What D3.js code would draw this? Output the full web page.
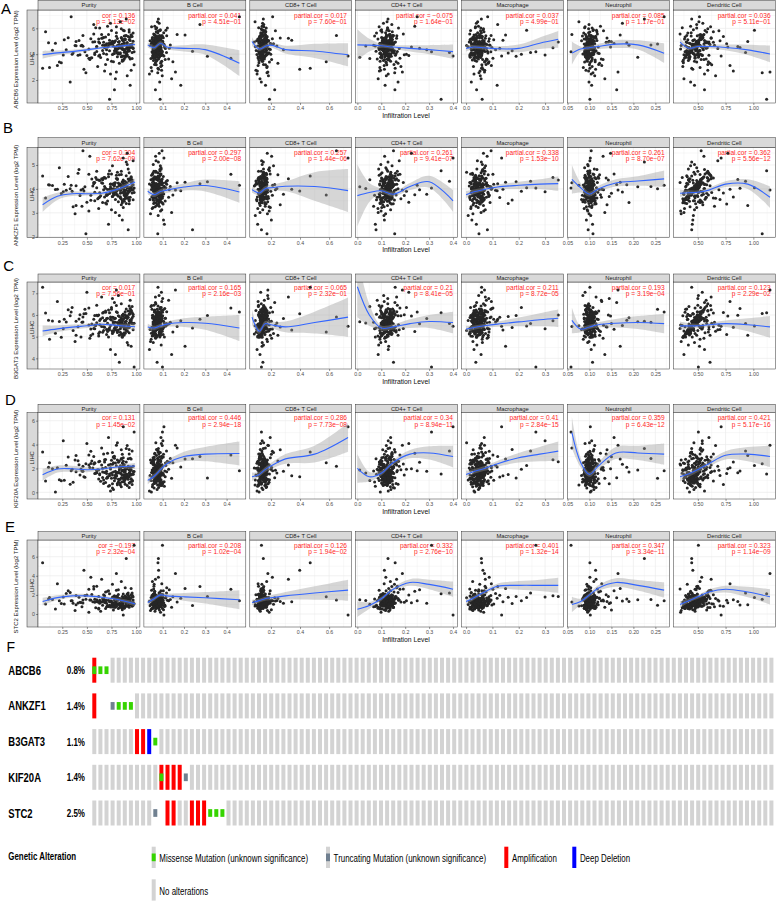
<!DOCTYPE html>
<html><head><meta charset="utf-8">
<script src="https://cdn.jsdelivr.net/npm/d3@7"></script>
<style>
body{margin:0;background:#fff}
svg{display:block}
text{font-family:"Liberation Sans",Arial,Helvetica,sans-serif}
</style>
</head><body>
<svg id="c" width="777" height="902"></svg>
<script>
// ---------------- DATA ----------------
const cellTypes = ["Purity","B Cell","CD8+ T Cell","CD4+ T Cell","Macrophage","Neutrophil","Dendritic Cell"];
const genes = ["ABCB6","ANKZF1","B3GAT3","KIF20A","STC2"];
const rowLetters = ["A","B","C","D","E"];

// infiltration levels per sample (purity in %, others x1000)
const purityPct = [84,91,62,77,95,38,88,71,56,93,80,24,86,67,97,74,52,89,81,45,
90,69,12,83,76,94,59,87,33,79,92,64,85,48,72,98,57,82,18,75,
88,66,93,41,79,86,54,96,70,29,84,61,91,77,36,89,68,95,50,73,
81,8,87,63,92,78,44,85,58,94,71,22,83,90,65,47,97,76,55,88,
15,80,69,93,39,86,74,60,91,27,82,53,96,78,66,5,87,43,72,94,
84,58,31,89,76,92,63,20,81,70,95,49,86,67,35,90,77,60,98,42,
79,88,52,11,93,73,85,65,26,91,57,83,75,96,46,80,68,34,87,62,
86,78,93,71,89,82,95,67,91,84,76,88,97,73,85,90,62,87,80,94,
83,70,92,79,96,86,58,89,77,93,81,74,90,85,66,95,88,72,84,91,
79,87,54,94,82,89,75,92,86,63,96,80,88,77,93,69,85,90,83,97,
74,89,81,46,92,87,78,95,84,68,91,86,60,93,80,88,76,94,85,39];
const bCellK = [62,88,51,74,95,43,69,112,57,81,48,66,104,59,77,38,90,71,53,84,
67,99,46,79,60,128,72,55,86,41,93,64,75,50,108,70,58,83,47,96,
73,61,89,54,142,68,80,45,102,63,76,91,56,85,65,119,49,78,94,60,
82,70,57,97,240,66,87,52,79,110,63,92,74,58,168,81,69,100,55,88,
76,105,62,90,71,310,84,59,98,73,131,67,86,95,61,78,115,70,92,185,
81,64,103,75,89,56,122,96,68,85,205,77,107,63,93,80,148,72,99,87,
113,79,420,95,71,88,136,66,101,84,275,91,74,118,97,160,83,460,106,90,
71,58,84,66,92,53,77,62,88,69,55,81,73,96,60,86,67,79,57,90,
64,75,98,59,83,70,52,87,68,78,61,94,72,56,85,65,80,63,91,74,
69,82,57,76,100,62,88,71,54,84,66,79,93,60,75,86,68,58,81,73,
64,89,77,55,83,70,95,61,78,67,87,74,59,82,69,97,63,76,85,72];
const cd8K = [132,158,110,145,97,176,124,139,86,167,151,118,203,129,142,105,188,136,113,161,
147,121,172,93,138,155,116,196,134,102,149,127,264,141,109,163,131,178,119,144,
153,99,137,168,125,146,210,114,159,133,91,174,140,122,187,148,107,156,130,343,
142,165,118,150,135,226,128,171,104,157,139,190,145,123,162,398,136,181,112,154,
170,131,149,241,126,160,143,115,183,152,137,205,166,120,158,470,147,134,195,163,
141,176,129,155,218,145,168,112,150,286,139,173,157,124,199,148,580,162,135,184,
153,231,144,169,127,190,158,320,140,175,151,248,166,138,650,179,146,212,730,160,
138,152,127,164,119,146,133,171,141,125,158,136,149,115,167,143,130,155,122,161,
147,134,174,128,153,140,117,162,137,150,124,145,168,131,156,142,121,159,135,148,
129,165,139,152,118,144,160,132,175,126,151,137,163,123,146,157,134,140,170,128,
154,143,120,166,138,149,131,158,145,127,162,136,153,116,148,139,169,133,157,142];
const cd4K = [108,125,86,140,97,118,72,133,104,150,91,121,113,162,80,129,99,144,115,68,
120,137,94,111,155,83,126,102,170,117,89,131,106,148,75,123,192,110,96,139,
114,128,101,159,87,134,119,52,143,107,124,182,98,136,112,165,92,130,215,105,
122,146,109,132,78,157,116,138,100,128,240,119,151,95,135,113,175,127,103,141,
130,118,153,35,126,142,109,167,121,137,260,114,148,132,101,158,124,196,139,116,
134,152,120,10,145,127,172,112,140,290,131,156,118,143,205,128,162,136,310,123,
147,133,178,125,155,350,138,164,129,226,144,170,136,385,151,188,141,250,400,159,
112,128,97,135,106,121,143,101,117,130,93,125,139,108,119,147,104,126,114,132,
99,123,138,110,127,95,141,116,129,103,122,150,107,134,118,124,91,137,113,128,
120,145,102,131,111,126,98,140,115,133,105,124,148,109,136,117,127,94,142,119,
125,100,139,113,130,108,144,121,96,134,116,128,103,146,122,111,137,118,131,106];
const macK = [32,55,18,47,71,26,40,63,12,51,36,84,22,45,58,30,67,15,49,38,
43,29,61,8,52,77,35,46,20,69,41,56,27,94,39,60,14,48,33,73,
50,37,65,24,57,42,88,31,54,112,44,28,62,48,19,75,53,36,59,140,
46,68,34,55,81,40,63,25,58,98,47,70,37,160,52,64,43,86,30,61,
57,44,76,50,66,190,39,72,54,105,48,80,62,35,91,59,230,45,69,118,
53,83,60,41,74,128,56,96,2,67,150,49,79,64,210,58,87,71,265,63,
78,55,102,68,175,61,89,73,300,66,120,84,57,245,95,70,330,82,135,350,
28,45,16,52,37,61,24,43,33,56,20,47,39,65,29,50,14,42,58,35,
46,23,54,31,62,40,18,49,36,57,27,44,69,34,51,21,47,38,60,30,
53,25,41,64,33,48,17,55,39,45,28,59,36,50,22,43,66,31,52,40,
26,57,35,46,19,63,42,30,54,37,48,24,60,32,44,51,15,41,56,34];
const neuK = [95,102,88,110,92,99,84,106,97,115,90,101,93,122,87,104,96,108,91,100,
98,113,86,103,94,127,89,105,99,82,111,96,140,92,107,100,118,85,102,95,
104,91,109,97,135,88,101,94,112,99,76,106,96,150,93,103,98,120,90,108,
100,117,94,105,97,162,91,110,102,96,125,89,107,99,60,114,101,145,95,104,
109,98,121,93,106,100,175,96,112,103,92,131,108,97,190,101,116,94,156,105,
99,119,103,210,97,111,106,128,100,93,170,108,102,138,96,225,113,104,58,117,
107,132,98,185,110,101,240,115,105,148,99,123,255,109,104,165,112,270,102,143,
96,101,92,105,98,89,103,95,108,93,100,97,111,91,104,99,94,106,90,102,
97,109,93,100,88,104,96,112,95,101,92,107,98,103,94,99,110,91,105,97,
100,93,106,96,102,89,108,95,99,104,92,114,97,101,94,105,98,90,103,96,
107,99,93,102,96,109,91,100,105,95,98,113,94,103,97,101,92,106,99,95];
const dcK = [420,510,380,465,590,350,440,530,395,480,615,370,455,500,410,560,345,470,430,650,
445,385,520,460,405,575,360,490,435,700,415,475,545,390,450,625,340,505,425,470,
495,400,460,600,375,485,535,420,760,450,510,365,470,580,430,495,820,405,540,460,
480,640,415,505,445,560,390,520,470,880,435,490,610,400,525,455,680,500,420,565,
515,440,590,475,950,425,545,500,660,410,485,555,730,460,520,445,1010,495,600,470,
530,455,620,505,435,575,490,790,465,550,515,1080,480,640,525,445,595,860,505,560,
545,690,475,580,520,1120,500,620,540,770,490,610,555,930,530,1150,585,515,710,600,
430,485,395,460,520,410,450,545,375,470,505,425,490,440,560,400,475,515,385,455,
495,420,535,445,480,365,510,435,465,580,415,500,450,390,525,470,440,555,405,485,
460,530,380,475,495,425,565,445,510,400,455,540,420,490,435,470,590,410,500,450,
480,390,525,465,445,505,430,550,415,475,495,370,460,520,440,485,405,535,455,470];

// expression (log2 TPM x100) per sample
const exprABCB6 = [452,388,517,403,276,468,541,359,495,426,612,334,478,405,563,247,441,512,380,469,
415,533,297,458,491,362,604,437,184,504,449,375,526,418,463,318,557,402,485,346,
472,428,589,391,209,447,519,366,480,434,651,305,461,497,412,543,269,455,389,508,
439,574,351,486,422,125,466,530,398,451,617,340,475,409,552,283,444,501,372,489,
431,566,321,463,498,384,639,420,233,511,446,358,537,405,470,292,585,395,482,160,
457,410,528,377,481,445,602,313,467,435,548,256,474,493,399,673,342,459,418,506,
443,581,368,488,426,52,471,524,393,455,630,329,479,413,545,262,449,690,385,495,
438,492,376,455,517,411,468,529,395,447,483,362,501,427,459,544,386,472,418,506,
451,399,536,433,478,345,497,421,462,571,408,489,444,381,525,466,437,552,402,481,
456,513,371,474,494,425,583,442,509,393,453,539,415,487,431,469,596,406,498,448,
476,388,521,461,440,503,426,548,412,470,491,354,458,514,436,480,398,532,452,465];
const exprANKZF1 = [362,405,318,387,433,296,374,349,412,338,457,381,270,396,355,421,308,369,442,327,
378,341,416,289,393,365,448,322,401,356,483,371,334,409,252,385,427,346,398,313,
389,424,351,466,301,407,373,438,337,394,415,359,502,382,325,419,366,451,344,399,
408,362,437,384,229,418,395,460,350,403,376,489,413,339,426,391,518,368,441,357,
414,379,445,402,331,430,387,474,361,419,396,537,383,425,343,454,405,372,462,392,
420,386,452,409,497,364,435,399,470,378,428,212,411,446,390,513,375,439,404,481,
426,397,461,417,354,476,410,443,388,549,422,459,401,432,560,395,448,415,529,437,
385,412,356,398,431,369,404,446,377,393,421,348,417,381,402,455,363,409,390,436,
396,372,441,388,414,342,427,383,401,468,375,419,394,359,438,406,379,451,367,411,
399,433,353,407,425,386,462,392,428,366,397,444,378,416,389,403,474,371,420,395,
408,361,439,400,384,423,376,448,382,410,426,351,405,434,391,418,368,443,397,413];
const exprB3GAT3 = [548,592,503,567,621,478,536,585,512,559,644,497,571,529,603,441,554,588,519,566,
541,613,488,575,527,668,552,506,597,533,462,581,545,626,498,562,538,690,516,577,
557,520,604,546,418,583,535,639,510,568,550,596,473,561,528,615,543,579,705,531,
565,609,514,574,540,657,499,586,553,630,524,570,382,593,547,606,532,676,558,518,
572,544,618,563,507,598,551,645,525,580,560,493,611,539,587,728,549,601,534,573,
578,537,624,569,515,590,555,662,529,584,456,607,564,546,635,571,521,599,360,582,
585,553,632,576,542,610,567,683,536,595,580,506,626,561,591,715,573,614,548,600,
551,583,518,562,601,531,567,612,526,556,589,508,594,541,572,627,515,579,546,606,
563,533,618,549,586,497,598,539,569,641,524,591,557,512,609,573,543,623,520,584,
566,604,505,577,596,538,634,553,599,521,561,615,535,588,547,575,652,528,593,559,
580,516,611,568,544,597,530,621,537,574,590,502,564,603,548,585,523,616,558,571];
const exprKIF20A = [112,58,186,23,145,271,87,130,204,41,166,96,318,74,152,11,229,120,63,179,
135,82,247,104,37,193,159,289,68,141,214,92,356,127,51,175,238,109,3,162,
148,201,77,264,118,183,345,99,157,226,61,190,132,298,85,172,255,114,410,139,
167,94,233,155,281,122,196,46,243,178,327,106,208,150,372,131,219,72,262,187,
198,143,274,161,309,119,235,182,392,101,251,207,66,286,170,338,224,145,460,212,
223,158,295,187,333,128,260,205,415,176,279,240,89,321,194,367,248,163,505,230,
246,184,312,209,358,153,283,229,432,197,301,263,117,347,218,395,272,180,550,257,
142,96,188,121,67,165,210,103,149,79,236,128,174,58,155,197,112,260,135,84,
161,118,219,144,92,183,247,107,170,131,73,205,152,276,125,190,99,228,163,139,
177,115,241,158,86,199,268,133,181,147,101,222,168,294,140,207,123,253,186,154,
195,137,271,176,109,214,302,150,202,166,119,245,185,321,157,231,146,285,212,173];
const exprSTC2 = [95,142,61,118,203,37,156,84,128,72,249,109,45,167,91,134,18,188,103,76,
121,58,172,99,312,140,66,115,225,87,152,29,131,194,79,108,262,146,53,124,
137,92,181,116,70,158,386,101,143,215,83,127,164,42,112,276,150,97,198,129,
145,105,210,133,88,169,120,341,154,94,238,139,67,176,125,459,148,111,205,160,
153,117,230,141,96,184,136,292,162,106,254,147,80,191,130,536,173,122,244,166,
161,126,243,150,102,197,144,318,170,113,267,155,86,203,138,580,182,132,720,175,
168,135,258,157,110,212,151,365,178,119,287,163,93,221,146,425,190,140,-10,183,
104,72,131,88,156,59,117,143,81,98,176,65,122,93,149,110,52,137,86,165,
114,77,140,101,190,69,127,152,90,106,183,74,133,97,160,119,61,145,92,171,
125,83,148,108,205,76,136,162,95,113,196,80,141,102,172,128,68,155,99,182,
134,89,159,115,220,82,146,168,100,121,210,87,150,107,185,138,73,163,105,195];

// loess fit knots (infiltration level) per cell type
const knotPurity = [0.05,0.2,0.35,0.5,0.65,0.8,0.99];
const knotBCell = [0.03,0.06,0.09,0.12,0.2,0.3,0.46];
const knotCD8 = [0.07,0.12,0.16,0.2,0.3,0.5,0.73];
const knotCD4 = [0.0,0.05,0.1,0.15,0.22,0.3,0.4];
const knotMac = [0.0,0.03,0.07,0.12,0.2,0.28,0.35];
const knotNeu = [0.06,0.08,0.1,0.12,0.16,0.21,0.27];
const knotDC = [0.34,0.42,0.5,0.6,0.75,0.95,1.15];

// fitted values and CI half widths, per gene, per cell type
const fitABCB6 = [[3.95,4.10,4.20,4.33,4.50,4.60,4.75],[4.72,4.50,4.85,4.55,4.45,4.35,3.30],[4.98,4.40,4.60,4.70,4.35,4.25,3.95],[4.72,4.70,4.65,4.55,4.45,4.35,4.20],[4.45,4.55,4.50,4.42,4.45,4.85,5.15],[4.08,4.40,4.50,4.60,4.78,4.72,4.08],[4.93,4.46,4.59,4.59,4.52,4.33,4.02]];
const ciABCB6 = [[0.3,0.18,0.14,0.12,0.1,0.1,0.15],[0.2,0.15,0.15,0.15,0.25,0.4,1.0],[0.35,0.15,0.15,0.18,0.3,0.55,0.9],[1.2,0.5,0.15,0.15,0.25,0.35,0.55],[0.25,0.15,0.15,0.2,0.3,0.45,0.65],[0.9,0.2,0.15,0.2,0.3,0.35,0.75],[0.35,0.15,0.12,0.15,0.22,0.4,0.65]];
const fitANKZF1 = [[3.34,3.69,3.80,3.80,3.82,3.97,4.29],[3.90,3.76,3.89,3.95,4.08,4.14,3.87],[3.97,3.83,4.01,4.05,4.11,4.10,3.93],[3.72,3.85,3.92,3.78,4.10,4.30,3.50],[3.76,3.88,3.98,4.08,4.15,4.20,4.22],[4.40,4.05,3.78,4.00,4.25,4.33,4.42],[3.82,3.84,3.86,3.95,4.20,4.20,3.65]];
const ciANKZF1 = [[0.3,0.15,0.1,0.08,0.08,0.08,0.15],[0.12,0.1,0.1,0.12,0.15,0.25,0.45],[0.12,0.1,0.1,0.12,0.2,0.6,0.9],[1.3,0.4,0.1,0.1,0.15,0.25,0.45],[0.15,0.1,0.08,0.1,0.15,0.2,0.3],[0.6,0.2,0.1,0.12,0.15,0.2,0.35],[0.15,0.1,0.08,0.1,0.12,0.2,0.45]];
const fitB3GAT3 = [[5.26,5.36,5.44,5.50,5.57,5.52,5.46],[5.45,5.40,5.50,5.58,5.65,5.62,5.40],[5.90,5.25,5.60,5.55,5.45,5.65,5.90],[7.30,6.00,5.40,5.45,5.60,5.70,5.65],[5.35,5.42,5.50,5.58,5.68,5.78,5.85],[5.75,5.35,5.45,5.55,5.62,5.65,5.60],[5.50,5.50,5.50,5.55,5.60,5.55,5.45]];
const ciB3GAT3 = [[0.25,0.15,0.12,0.1,0.08,0.08,0.15],[0.15,0.1,0.1,0.12,0.2,0.3,0.6],[0.35,0.12,0.12,0.15,0.25,0.5,0.9],[1.4,0.5,0.12,0.12,0.2,0.3,0.5],[0.15,0.1,0.1,0.12,0.2,0.3,0.4],[0.6,0.15,0.1,0.12,0.2,0.3,0.45],[0.2,0.12,0.1,0.1,0.15,0.3,0.5]];
const fitKIF20A = [[1.47,1.95,1.97,1.89,1.95,2.12,2.20],[1.00,1.35,1.90,2.40,3.00,3.20,3.25],[1.30,1.50,1.90,2.20,2.80,3.20,4.60],[2.00,1.30,1.60,2.50,3.20,3.30,3.00],[1.50,1.75,2.00,2.40,2.90,3.20,3.45],[5.00,2.50,1.50,2.20,3.30,3.30,3.20],[1.30,1.55,1.90,2.40,3.10,3.20,3.00]];
const ciKIF20A = [[0.5,0.3,0.25,0.2,0.15,0.15,0.25],[0.35,0.2,0.2,0.25,0.4,0.6,1.0],[0.35,0.2,0.2,0.25,0.4,0.7,1.2],[1.2,0.4,0.2,0.2,0.35,0.55,0.9],[0.3,0.2,0.2,0.25,0.4,0.6,0.8],[1.3,0.4,0.2,0.3,0.5,0.6,0.9],[0.4,0.25,0.2,0.25,0.35,0.6,0.9]];
const fitSTC2 = [[1.30,1.72,1.90,1.90,1.76,1.55,1.06],[1.20,1.60,2.00,1.90,1.80,1.70,1.50],[1.20,1.40,1.60,1.70,1.90,2.20,2.50],[0.50,0.90,1.60,2.60,3.30,3.10,2.60],[1.30,1.70,2.30,2.90,3.00,3.00,3.00],[1.00,1.30,2.00,2.70,3.30,3.00,2.50],[1.00,1.40,1.80,2.30,2.60,2.30,1.80]];
const ciSTC2 = [[0.4,0.25,0.2,0.18,0.15,0.15,0.25],[0.3,0.2,0.2,0.25,0.4,0.6,1.0],[0.3,0.2,0.2,0.25,0.4,0.7,1.1],[0.8,0.35,0.2,0.2,0.35,0.5,0.8],[0.3,0.2,0.2,0.3,0.45,0.6,0.8],[0.8,0.3,0.2,0.3,0.45,0.55,0.8],[0.35,0.2,0.2,0.25,0.35,0.55,0.8]];

// correlation annotations
const corABCB6 = ["0.136","0.041","0.017","\u22120.075","0.037","0.085","0.036"];
const pABCB6 = ["1.13e\u221202","4.51e\u221201","7.60e\u221201","1.64e\u221201","4.99e\u221201","1.17e\u221201","5.11e\u221201"];
const corANKZF1 = ["0.304","0.297","0.257","0.261","0.338","0.261","0.362"];
const pANKZF1 = ["7.62e\u221209","2.00e\u221208","1.44e\u221206","9.41e\u221207","1.53e\u221210","8.70e\u221207","5.56e\u221212"];
const corB3GAT3 = ["0.017","0.165","0.065","0.21","0.211","0.193","0.123"];
const pB3GAT3 = ["7.56e\u221201","2.16e\u221203","2.32e\u221201","8.41e\u221205","8.72e\u221205","3.19e\u221204","2.29e\u221202"];
const corKIF20A = ["0.131","0.446","0.286","0.34","0.41","0.359","0.421"];
const pKIF20A = ["1.45e\u221202","2.94e\u221218","7.73e\u221208","8.94e\u221211","2.84e\u221215","6.43e\u221212","5.17e\u221216"];
const corSTC2 = ["\u22120.197","0.208","0.126","0.332","0.401","0.347","0.323"];
const pSTC2 = ["2.32e\u221204","1.02e\u221204","1.94e\u221202","2.76e\u221210","1.32e\u221214","3.34e\u221211","1.14e\u221209"];

// axis ticks
const xTicksPurity = [0.25,0.5,0.75,1.0];
const xTicksBCell = [0.1,0.2,0.3,0.4];
const xTicksCD8 = [0.2,0.4,0.6];
const xTicksCD4 = [0.0,0.1,0.2,0.3,0.4];
const xTicksMac = [0.0,0.1,0.2,0.3];
const xTicksNeu = [0.05,0.10,0.15,0.20,0.25];
const xTicksDC = [0.50,0.75,1.00];
const yTicksABCB6 = [2,4,6];
const yTicksANKZF1 = [2,3,4,5];
const yTicksB3GAT3 = [4,5,6,7];
const yTicksKIF20A = [0,2,4,6];
const yTicksSTC2 = [0,2,4,6];

// axis limits
const xLimPurity = [0.003,1.039], xLimBCell = [0.012,0.49], xLimCD8 = [0.055,0.755], xLimCD4 = [-0.007,0.419],
      xLimMac = [-0.017,0.37], xLimNeu = [0.05,0.282], xLimDC = [0.28,1.198];
const yLimABCB6 = [0.22,7.42], yLimANKZF1 = [1.96,5.74], yLimB3GAT3 = [3.51,7.52], yLimKIF20A = [-0.56,6.67], yLimSTC2 = [-1.36,7.75];

// oncoprint (panel F)
const oncoPct = ["0.8%","1.4%","1.1%","1.4%","2.5%"];
const oncoCols = 112;
const ampCols = [[0],[0],[7,8],[11,12,13,14],[12,13,16,17,18]];
const delCols = [[],[],[9],[],[]];
const missenseCols = [[0,1,2],[4,5,6],[10],[11],[19,20,21]];
const truncCols = [[],[3],[],[15],[10]];
const blankCols = [[],[1,2],[],[],[11]];
const legendLabels = ["Missense Mutation (unknown significance)","Truncating Mutation (unknown significance)","Amplification","Deep Deletion","No alterations"];

// ---------------- ASSEMBLY ----------------
const xs = [purityPct.map(v=>v/100), bCellK.map(v=>v/1000), cd8K.map(v=>v/1000), cd4K.map(v=>v/1000), macK.map(v=>v/1000), neuK.map(v=>v/1000), dcK.map(v=>v/1000)];
const ys = [exprABCB6, exprANKZF1, exprB3GAT3, exprKIF20A, exprSTC2].map(a=>a.map(v=>v/100));
const N = d3.min(xs.concat(ys), a=>a.length);
const knots = [knotPurity, knotBCell, knotCD8, knotCD4, knotMac, knotNeu, knotDC];
const fits = [fitABCB6, fitANKZF1, fitB3GAT3, fitKIF20A, fitSTC2];
const cis = [ciABCB6, ciANKZF1, ciB3GAT3, ciKIF20A, ciSTC2];
const cors = [corABCB6, corANKZF1, corB3GAT3, corKIF20A, corSTC2];
const pvals = [pABCB6, pANKZF1, pB3GAT3, pKIF20A, pSTC2];
const xTicks = [xTicksPurity, xTicksBCell, xTicksCD8, xTicksCD4, xTicksMac, xTicksNeu, xTicksDC];
const xFmt = [".2f",".1f",".1f",".1f",".1f",".2f",".2f"].map(f=>d3.format(f));
const yTicks = [yTicksABCB6, yTicksANKZF1, yTicksB3GAT3, yTicksKIF20A, yTicksSTC2];
const xLims = [xLimPurity, xLimBCell, xLimCD8, xLimCD4, xLimMac, xLimNeu, xLimDC];
const yLims = [yLimABCB6, yLimANKZF1, yLimB3GAT3, yLimKIF20A, yLimSTC2];

// ---------------- LAYOUT ----------------
const W = 777, H = 902;
const PX0 = 38, PW = 101.9, PG = 4;
const rowGeo = [
  {strip:0.5, top:10, bottom:103, lx:1, ly:14},
  {strip:137.7, top:147.3, bottom:237.7, lx:3, ly:133.3},
  {strip:274, top:282, bottom:369, lx:3.3, ly:270.7},
  {strip:404.3, top:412.7, bottom:499, lx:5, ly:405},
  {strip:531.7, top:540, bottom:627, lx:5, ly:532.3}
];
const GRID = "#ebebeb", BORDER = "#333333", STRIPFILL = "#d9d9d9";

const svg = d3.select("#c");
svg.append("rect").attr("width",W).attr("height",H).attr("fill","#fff");
const defs = svg.append("defs");

function minorOf(t, lim){
  const s = t.length>1 ? t[1]-t[0] : 1;
  const m = [t[0]-s/2].concat(t.map(v=>v+s/2));
  return m.filter(v=>v>lim[0] && v<lim[1]);
}

rowGeo.forEach((geo, r) => {
  const gRow = svg.append("g");
  const y = d3.scaleLinear().domain(yLims[r]).range([geo.bottom, geo.top]);
  const cy = (geo.top+geo.bottom)/2;

  gRow.append("text").attr("x",geo.lx).attr("y",geo.ly).attr("font-size",15).attr("fill","#000").text(rowLetters[r]);
  gRow.append("text").attr("transform",`translate(18.3,${cy+3}) rotate(-90)`).attr("text-anchor","middle")
    .attr("font-size",6).attr("fill","#111").text(`${genes[r]} Expression Level (log2 TPM)`);
  gRow.append("rect").attr("x",27).attr("y",geo.top).attr("width",11).attr("height",geo.bottom-geo.top)
    .attr("fill",STRIPFILL).attr("stroke",BORDER).attr("stroke-width",0.5);
  gRow.append("text").attr("transform",`translate(34.3,${cy+2}) rotate(-90)`).attr("text-anchor","middle")
    .attr("font-size",5.8).attr("fill","#1a1a1a").text("LIHC");

  cellTypes.forEach((ct, c) => {
    const px = PX0 + c*(PW+PG);
    const x = d3.scaleLinear().domain(xLims[c]).range([px, px+PW]);
    const g = gRow.append("g");
    g.append("rect").attr("x",px).attr("y",geo.top).attr("width",PW).attr("height",geo.bottom-geo.top).attr("fill","#fff");
    const grid = g.append("g").attr("fill","none").attr("stroke",GRID);
    minorOf(xTicks[c], xLims[c]).forEach(v=>grid.append("line").attr("x1",x(v)).attr("x2",x(v)).attr("y1",geo.top).attr("y2",geo.bottom).attr("stroke-width",0.35));
    minorOf(yTicks[r], yLims[r]).forEach(v=>grid.append("line").attr("y1",y(v)).attr("y2",y(v)).attr("x1",px).attr("x2",px+PW).attr("stroke-width",0.35));
    xTicks[c].forEach(v=>grid.append("line").attr("x1",x(v)).attr("x2",x(v)).attr("y1",geo.top).attr("y2",geo.bottom).attr("stroke-width",0.7));
    yTicks[r].forEach(v=>grid.append("line").attr("y1",y(v)).attr("y2",y(v)).attr("x1",px).attr("x2",px+PW).attr("stroke-width",0.7));

    const tx = px+PW-4.7;
    const lab = (c===0 ? "cor = " : "partial.cor = ") + cors[r][c];
    g.append("text").attr("x",tx).attr("y",geo.top+7.5).attr("text-anchor","end").attr("font-size",6.6).attr("fill","#ff1f1f").text(lab);
    g.append("text").attr("x",tx).attr("y",geo.top+14).attr("text-anchor","end").attr("font-size",6.6).attr("fill","#ff1f1f").text("p = "+pvals[r][c]);

    const id = `clip_${r}_${c}`;
    defs.append("clipPath").attr("id",id).append("rect").attr("x",px).attr("y",geo.top).attr("width",PW).attr("height",geo.bottom-geo.top);
    const inner = g.append("g").attr("clip-path",`url(#${id})`);
    inner.selectAll("circle").data(d3.range(N)).join("circle")
      .attr("cx",i=>x(xs[c][i])).attr("cy",i=>y(ys[r][i])).attr("r",1.5).attr("fill","#262626");
    const pts = knots[c].map((k,j)=>({k, f:fits[r][c][j], lo:fits[r][c][j]-cis[r][c][j], hi:fits[r][c][j]+cis[r][c][j]}));
    const crv = d3.curveCatmullRom.alpha(0.5);
    inner.append("path").datum(pts).attr("d", d3.area().x(d=>x(d.k)).y0(d=>y(d.lo)).y1(d=>y(d.hi)).curve(crv))
      .attr("fill","#999").attr("fill-opacity",0.4);
    inner.append("path").datum(pts).attr("d", d3.line().x(d=>x(d.k)).y(d=>y(d.f)).curve(crv))
      .attr("fill","none").attr("stroke","#3366ff").attr("stroke-width",1.1);

    g.append("rect").attr("x",px).attr("y",geo.top).attr("width",PW).attr("height",geo.bottom-geo.top)
      .attr("fill","none").attr("stroke",BORDER).attr("stroke-width",0.5);
    g.append("rect").attr("x",px).attr("y",geo.strip).attr("width",PW).attr("height",geo.top-geo.strip)
      .attr("fill",STRIPFILL).attr("stroke",BORDER).attr("stroke-width",0.5);
    g.append("text").attr("x",px+PW/2).attr("y",(geo.strip+geo.top)/2+2).attr("text-anchor","middle")
      .attr("font-size",5.8).attr("fill","#1a1a1a").text(ct);

    const ax = g.append("g").attr("transform",`translate(0,${geo.bottom})`)
      .call(d3.axisBottom(x).tickValues(xTicks[c]).tickFormat(xFmt[c]).tickSize(2).tickPadding(1.6));
    ax.select(".domain").remove();
    ax.selectAll("line").attr("stroke",BORDER).attr("stroke-width",0.5);
    ax.selectAll("text").attr("font-size",5.3).attr("fill","#4d4d4d").attr("font-family","Liberation Sans, Arial, sans-serif");
  });

  const ay = gRow.append("g").attr("transform",`translate(${PX0},0)`)
    .call(d3.axisLeft(y).tickValues(yTicks[r]).tickFormat(d3.format("d")).tickSize(2).tickPadding(1));
  ay.select(".domain").remove();
  ay.selectAll("line").attr("stroke",BORDER).attr("stroke-width",0.5);
  ay.selectAll("text").attr("font-size",5.3).attr("fill","#4d4d4d").attr("font-family","Liberation Sans, Arial, sans-serif");

  gRow.append("text").attr("x",406).attr("y",geo.bottom+14.5).attr("text-anchor","middle")
    .attr("font-size",6.8).attr("fill","#111").text("Infiltration Level");
});

// ---------------- PANEL F : ONCOPRINT ----------------
const F = svg.append("g");
F.append("text").attr("x",6.5).attr("y",651.7).attr("font-size",14).attr("fill","#000").text("F");
const rowTop0 = 657.7, rowStep = 35.7, rowH = 25;
const colX = d3.scaleBand().domain(d3.range(oncoCols)).range([92.3, 92.3 + 6.1*oncoCols - 2.1]).paddingInner(2.1/6.1).paddingOuter(0);
const bw = colX.bandwidth();
const C_GREY = "#d3d3d3", C_AMP = "#ff0000", C_DEL = "#0000ff", C_MIS = "#36d400", C_TRU = "#708090";
const mutH = 7.7;

function narrow(g, x, yy, str, size, weight, sx){
  g.append("text").attr("transform",`translate(${x},${yy}) scale(${sx},1)`)
   .attr("font-size",size).attr("font-weight",weight).attr("fill","#000").text(str);
}

genes.forEach((gname, gi) => {
  const top = rowTop0 + gi*rowStep;
  narrow(F, 8.3, top+17, gname, 12.5, "bold", 0.76);
  narrow(F, 66.7, top+16.5, oncoPct[gi], 11, "bold", 0.73);
  const mutOnly = new Set(missenseCols[gi].concat(truncCols[gi]).filter(v=>!ampCols[gi].includes(v) && !delCols[gi].includes(v)));
  const skip = new Set(blankCols[gi].concat(ampCols[gi], delCols[gi], [...mutOnly]));
  F.append("g").selectAll("rect").data(d3.range(oncoCols).filter(i=>!skip.has(i))).join("rect")
    .attr("x",i=>colX(i)).attr("y",top).attr("width",bw).attr("height",rowH).attr("fill",C_GREY);
  F.append("g").selectAll("rect").data(ampCols[gi]).join("rect")
    .attr("x",i=>colX(i)).attr("y",top).attr("width",bw).attr("height",rowH).attr("fill",C_AMP);
  F.append("g").selectAll("rect").data(delCols[gi]).join("rect")
    .attr("x",i=>colX(i)).attr("y",top).attr("width",bw).attr("height",rowH).attr("fill",C_DEL);
  F.append("g").selectAll("rect").data(missenseCols[gi]).join("rect")
    .attr("x",i=>colX(i)).attr("y",top+(rowH-mutH)/2).attr("width",bw).attr("height",mutH).attr("fill",C_MIS);
  F.append("g").selectAll("rect").data(truncCols[gi]).join("rect")
    .attr("x",i=>colX(i)).attr("y",top+(rowH-mutH)/2).attr("width",bw).attr("height",mutH).attr("fill",C_TRU);
});

narrow(F, 8.3, 860, "Genetic Alteration", 10.7, "bold", 0.74);
const legItems = [
  {x:151.7, y:846.7, kind:"mis"},
  {x:326, y:846.7, kind:"tru"},
  {x:504.3, y:846.7, kind:"amp"},
  {x:572.3, y:846.7, kind:"del"},
  {x:151.7, y:879.3, kind:"none"}
];
const legH = 21.3;
legItems.forEach((it, k) => {
  const fill = it.kind==="amp" ? C_AMP : it.kind==="del" ? C_DEL : C_GREY;
  F.append("rect").attr("x",it.x).attr("y",it.y).attr("width",4).attr("height",legH).attr("fill",fill);
  if (it.kind==="mis" || it.kind==="tru")
    F.append("rect").attr("x",it.x).attr("y",it.y+(legH-mutH)/2).attr("width",4).attr("height",mutH).attr("fill", it.kind==="mis"?C_MIS:C_TRU);
  narrow(F, it.x+7.6, it.y+15.3, legendLabels[k], 11, "normal", 0.721);
});
</script>
</body></html>
